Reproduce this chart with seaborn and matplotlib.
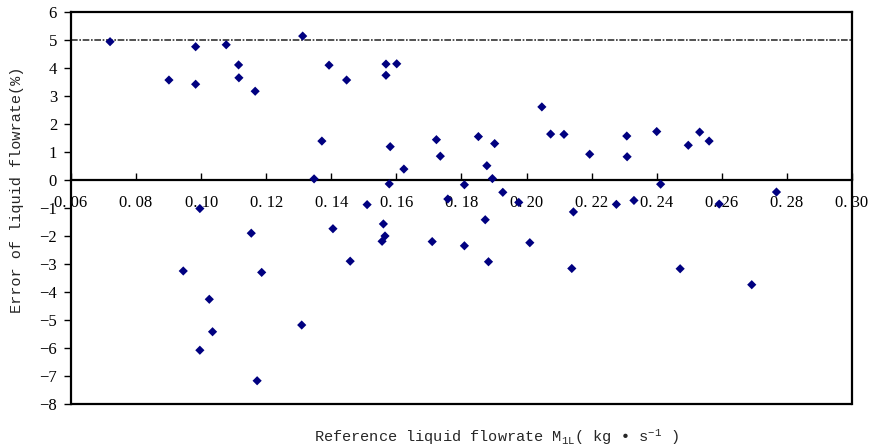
import matplotlib
matplotlib.use('Agg')
import matplotlib.pyplot as plt
import seaborn as sns
import pandas as pd

# vazão de líquido de referência (kg/s) e erro (%)
vazao = [0.0720, 0.0901, 0.0983, 0.0983, 0.1077, 0.1115, 0.1116, 0.1166, 0.0996,
         0.1312, 0.1393, 0.1447, 0.1568, 0.1601, 0.1568, 0.2047, 0.1371, 0.1347,
         0.1581, 0.1623, 0.1578, 0.1723, 0.1735, 0.1852, 0.1902, 0.1878, 0.1895,
         0.1809, 0.1927, 0.1758, 0.1976, 0.1510, 0.2074, 0.2115, 0.2144, 0.1405,
         0.1560, 0.1873, 0.1565, 0.1556, 0.1458, 0.1710, 0.1809, 0.1883, 0.2010,
         0.2139, 0.1309, 0.1154, 0.0945, 0.1186, 0.1025, 0.1035, 0.0996, 0.1172,
         0.2194, 0.2308, 0.2309, 0.2400, 0.2497, 0.2532, 0.2561, 0.2412, 0.2768,
         0.2276, 0.2330, 0.2592, 0.2472, 0.2692]
erro = [4.94, 3.57, 4.76, 3.42, 4.83, 4.11, 3.65, 3.17, -1.02,
        5.14, 4.10, 3.57, 4.14, 4.15, 3.74, 2.61, 1.39, 0.04,
        1.19, 0.39, -0.14, 1.44, 0.85, 1.55, 1.30, 0.51, 0.05,
        -0.17, -0.44, -0.68, -0.80, -0.88, 1.64, 1.63, -1.14, -1.74,
        -1.57, -1.42, -2.00, -2.19, -2.90, -2.20, -2.35, -2.92, -2.24,
        -3.16, -5.18, -1.90, -3.25, -3.30, -4.26, -5.42, -6.08, -7.17,
        0.92, 1.57, 0.83, 1.73, 1.24, 1.71, 1.39, -0.15, -0.43,
        -0.87, -0.73, -0.86, -3.17, -3.74]

xticks = [0.06, 0.08, 0.10, 0.12, 0.14, 0.16, 0.18, 0.20, 0.22, 0.24, 0.26, 0.28, 0.30]
xtick_labels = ['0. 06', '0. 08', '0. 10', '0. 12', '0. 14', '0. 16', '0. 18',
                '0. 20', '0. 22', '0. 24', '0. 26', '0. 28', '0. 30']
yticks = [-8, -7, -6, -5, -4, -3, -2, -1, 0, 1, 2, 3, 4, 5, 6]
limite = 5

df = pd.DataFrame({'vazao': vazao, 'erro': erro})

sns.set_style('white')
plt.rcParams['font.family'] = ['Liberation Serif', 'DejaVu Serif']

fig = plt.figure(figsize=(8.69, 4.46), dpi=100)
ax = fig.add_axes([0.0817, 0.0942, 0.8987, 0.8789])

# linha de limite em 5%
ax.axhline(limite, color='#333333', lw=1.2, linestyle=(0, (4, 1, 1, 1)), zorder=1)

sns.scatterplot(x='vazao', y='erro', data=df, marker='D', color='#000080',
                s=22, edgecolor='none', ax=ax, zorder=3)

ax.set_xlim(0.06, 0.30)
ax.set_ylim(-8, 6)
ax.set_xticks(xticks)
ax.set_xticklabels(xtick_labels)
ax.set_yticks(yticks)

# eixo x cruzando em zero, com moldura completa
ax.spines['bottom'].set_position(('data', 0))
for lado in ['left', 'right', 'top', 'bottom']:
    ax.spines[lado].set_color('black')
    ax.spines[lado].set_linewidth(1.6)
ax.axhline(-8, color='black', lw=1.6, clip_on=False, zorder=4)

ax.tick_params(axis='x', direction='in', length=5, width=1, pad=11,
               labelsize=12, colors='black', bottom=True)
ax.tick_params(axis='y', direction='out', length=5, width=1, pad=5,
               labelsize=12, colors='black', left=True)

ax.set_xlabel(r'Reference liquid flowrate $\mathregular{M_{1L}}$( kg • s$\mathregular{^{-1}}$ )',
              family=['Liberation Mono', 'DejaVu Sans Mono'], fontsize=11)
ax.xaxis.set_label_coords(0.545, -0.06)
ax.set_ylabel('Error of liquid flowrate(%)',
              family=['Liberation Mono', 'DejaVu Sans Mono'], fontsize=11)
ax.yaxis.set_label_coords(-0.069, 0.546)
ax.yaxis.label.set_va('center')

plt.savefig('out.png', dpi=100)
